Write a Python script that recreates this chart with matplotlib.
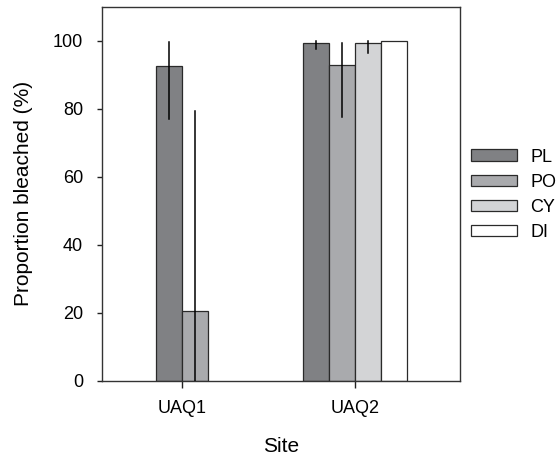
import numpy as np
import matplotlib
matplotlib.use("Agg")
import matplotlib.pyplot as plt
from matplotlib.patches import Patch

plt.rcParams["font.family"] = ["Liberation Sans", "DejaVu Sans"]

# --- data ---
sites = ["UAQ1", "UAQ2"]
groups = ["PL", "PO", "CY", "DI"]
colors = ["#808184", "#a9aaad", "#d3d4d6", "#ffffff"]

pl_mean = [92.6, 99.3]
po_mean = [20.4, 92.8]
cy_mean = [np.nan, 99.3]
di_mean = [np.nan, 100.0]

pl_low = [77.0, 97.7]
pl_high = [99.7, 100.0]
po_low = [0.0, 77.7]
po_high = [79.4, 99.4]
cy_low = [np.nan, 96.4]
cy_high = [np.nan, 100.0]
di_low = [np.nan, np.nan]
di_high = [np.nan, np.nan]

means = [pl_mean, po_mean, cy_mean, di_mean]
lows = [pl_low, po_low, cy_low, di_low]
highs = [pl_high, po_high, cy_high, di_high]

BAR_W = 0.15

fig = plt.figure(figsize=(5.56, 4.58), dpi=100)
ax = fig.add_axes([102 / 556, 1 - 380.5 / 458, 358 / 556, 373.5 / 458])

for si in range(len(sites)):
    present = [g for g in range(len(groups)) if not np.isnan(means[g][si])]
    n = len(present)
    for k, g in enumerate(present):
        x = si + (k - (n - 1) / 2) * BAR_W
        m = means[g][si]
        ax.bar(x, m, width=BAR_W, color=colors[g], edgecolor="#2a2a2a",
               linewidth=0.9, zorder=2)
        lo, hi = lows[g][si], highs[g][si]
        if not np.isnan(lo):
            ax.plot([x, x], [lo, hi], color="black", lw=1.1, zorder=3)

ax.set_xlim(-0.46, 1.606)
ax.set_ylim(0, 110)
ax.set_xticks(range(len(sites)))
ax.set_xticklabels(sites)
ax.set_yticks(np.arange(0, 101, 20))

for sp in ax.spines.values():
    sp.set_color("#333333")
    sp.set_linewidth(1.0)

ax.tick_params(axis="y", direction="out", length=3.6, width=1, pad=10,
               labelsize=13, color="#222222")
ax.tick_params(axis="x", direction="out", length=4.8, width=1, pad=9,
               labelsize=13, color="#222222")

ax.set_xlabel("Site", fontsize=15, labelpad=15)
ax.set_ylabel("Proportion bleached (%)", fontsize=15, labelpad=14)

handles = [Patch(facecolor=colors[g], edgecolor="#2a2a2a", linewidth=0.9)
           for g in range(len(groups))]
fig.legend(handles, groups, loc="center left",
           bbox_to_anchor=(471 / 556, 1 - 194.7 / 458),
           frameon=False, fontsize=13, handlelength=2.55, handleheight=0.6,
           handletextpad=0.75, labelspacing=0.45, borderpad=0,
           borderaxespad=0)

fig.savefig("out.png", dpi=100)
